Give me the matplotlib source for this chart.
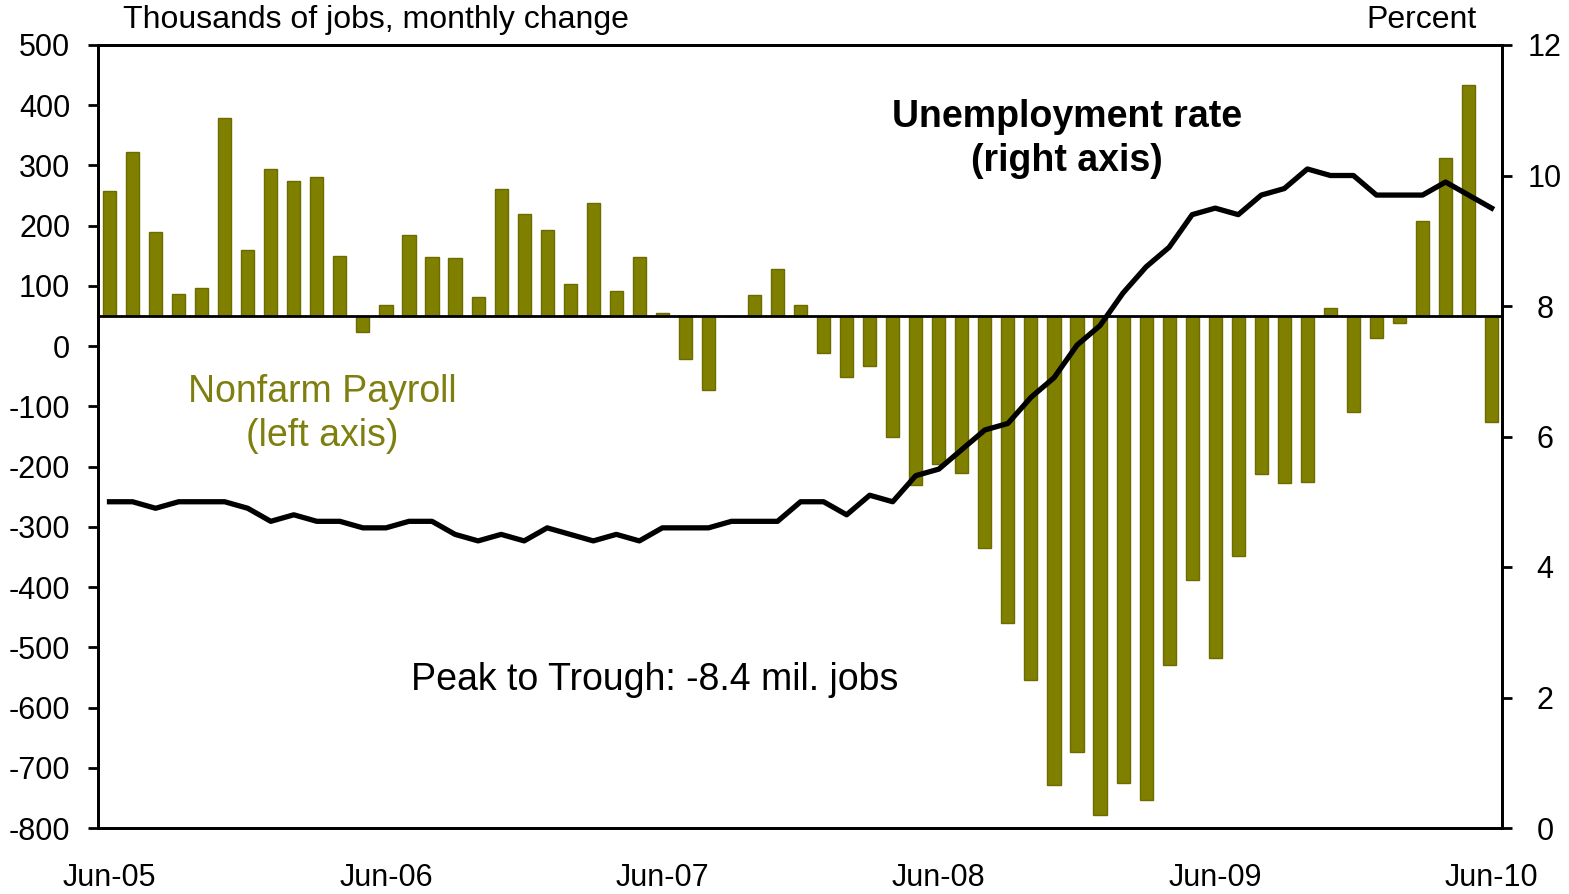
import numpy as np
import matplotlib
matplotlib.use("Agg")
import matplotlib.pyplot as plt

plt.rcParams['font.family'] = ['Liberation Sans', 'DejaVu Sans']
plt.rcParams['axes.unicode_minus'] = False

# months Jun-05 .. Jun-10
tick_pos = [0, 12, 24, 36, 48, 60]
tick_labels = ['Jun-05', 'Jun-06', 'Jun-07', 'Jun-08', 'Jun-09', 'Jun-10']

# nonfarm payroll, thousands of jobs
payroll = [258, 322, 189, 87, 97, 379, 159, 294, 274, 281,
           150, 23, 69, 185, 148, 146, 82, 261, 219, 193,
           103, 238, 91, 148, 55, -21, -72, 50, 85, 128,
           69, -11, -51, -33, -150, -231, -195, -210, -335, -459,
           -554, -728, -673, -779, -726, -753, -529, -389, -517, -348,
           -213, -227, -226, 63, -110, 13, 38, 207, 312, 433,
           -126]
bar_base = 50  # bars hang off the category axis line

# unemployment rate, percent (right axis)
unemp = [5.0, 5.0, 4.9, 5.0, 5.0, 5.0, 4.9, 4.7, 4.8, 4.7,
         4.7, 4.6, 4.6, 4.7, 4.7, 4.5, 4.4, 4.5, 4.4, 4.6,
         4.5, 4.4, 4.5, 4.4, 4.6, 4.6, 4.6, 4.7, 4.7, 4.7,
         5.0, 5.0, 4.8, 5.1, 5.0, 5.4, 5.5, 5.8, 6.1, 6.2,
         6.6, 6.9, 7.4, 7.7, 8.2, 8.6, 8.9, 9.4, 9.5, 9.4,
         9.7, 9.8, 10.1, 10.0, 10.0, 9.7, 9.7, 9.7, 9.9, 9.7,
         9.5]

W, H = 1569, 894
fig = plt.figure(figsize=(W / 100, H / 100), dpi=100)
ax = fig.add_axes([98 / W, 1 - 828 / H, (1502 - 98) / W, (828 - 45) / H])
ax2 = ax.twinx()

x = np.arange(len(payroll))
vals = np.array(payroll, dtype=float)
ax.bar(x, vals - bar_base, bottom=bar_base, width=0.57,
       color='#808000', edgecolor='#6b6b00', linewidth=1, zorder=2)
ax.axhline(bar_base, color='black', lw=2, zorder=3)

ax2.plot(x, unemp, color='black', lw=3.8, zorder=4)

ax.set_xlim(-0.5, 60.45)
ax.set_ylim(-800, 500)
ax.set_yticks(np.arange(-800, 501, 100))
ax2.set_ylim(0, 12)
ax2.set_yticks(np.arange(0, 13, 2))

ax.set_xticks(tick_pos)
ax.set_xticklabels(tick_labels)
ax.tick_params(axis='x', length=0, pad=25, labelsize=22)
ax.tick_params(axis='y', direction='out', length=7, width=2, pad=13, labelsize=22)
ax2.tick_params(axis='y', direction='out', length=7, width=2, pad=24, labelsize=22)
for lab in ax2.get_yticklabels():
    lab.set_horizontalalignment('center')

for a in (ax, ax2):
    for s in a.spines.values():
        s.set_linewidth(2)

fig.text(123 / W, 1 - 20 / H, 'Thousands of jobs, monthly change',
         fontsize=23, ha='left', va='center')
fig.text(1477 / W, 1 - 20 / H, 'Percent', fontsize=23, ha='right', va='center')

fig.text(1067 / W, 1 - 139 / H, 'Unemployment rate\n(right axis)', fontsize=27,
         fontweight='bold', ha='center', va='center', linespacing=1.3)
fig.text(322 / W, 1 - 414 / H, 'Nonfarm Payroll\n(left axis)', fontsize=27,
         color='#7f7f10', ha='center', va='center', linespacing=1.3)
fig.text(655 / W, 1 - 680 / H, 'Peak to Trough: -8.4 mil. jobs', fontsize=27,
         ha='center', va='center')

fig.savefig('out.png', dpi=100)
